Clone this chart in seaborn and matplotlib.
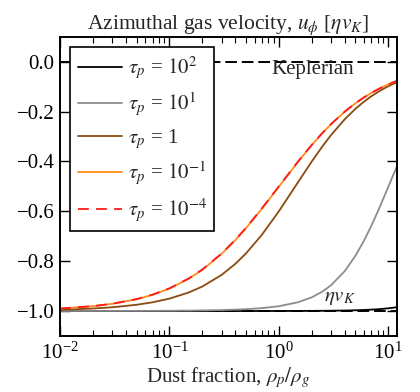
import matplotlib
matplotlib.use("Agg")
import matplotlib.pyplot as plt
import seaborn as sns
import pandas as pd

# dust-to-gas ratio samples
eps = [0.01, 0.02, 0.03, 0.05, 0.07, 0.1, 0.15, 0.2, 0.3, 0.4, 0.5, 0.7, 1.0,
       1.5, 2.0, 2.5, 3.0, 4.0, 5.0, 6.0, 7.0, 8.0, 9.0, 10.0, 11.0, 12.0]

u_tau1e2 = [-1.0, -1.0, -1.0, -1.0, -1.0, -1.0, -1.0, -1.0, -1.0, -1.0, -0.9999, -0.9999, -0.9998,
            -0.9996, -0.9994, -0.9991, -0.9988, -0.998, -0.997, -0.9958, -0.9944, -0.9929, -0.9911, -0.9891, -0.9870, -0.9847]
u_tau1e1 = [-0.9999, -0.9998, -0.9997, -0.9995, -0.9993, -0.9989, -0.9983, -0.9976, -0.9962, -0.9945, -0.9927, -0.9884, -0.9808,
            -0.9647, -0.9450, -0.9221, -0.8966, -0.840, -0.7794, -0.7181, -0.6585, -0.6022, -0.550, -0.5023, -0.4590, -0.4201]
u_tau1e0 = [-0.9950, -0.9900, -0.9850, -0.9750, -0.9651, -0.9502, -0.9257, -0.9016, -0.8550, -0.8108, -0.7692, -0.6941, -0.600,
            -0.4828, -0.400, -0.3396, -0.2941, -0.2308, -0.1892, -0.160, -0.1385, -0.1220, -0.1089, -0.0984, -0.0897, -0.0824]
u_tau1em1 = [-0.9902, -0.9806, -0.9711, -0.9528, -0.9351, -0.9098, -0.8705, -0.8345, -0.7706, -0.7157, -0.6681, -0.5897, -0.5012,
             -0.4010, -0.3341, -0.2863, -0.2505, -0.2003, -0.1669, -0.1430, -0.1251, -0.1112, -0.1001, -0.0910, -0.0834, -0.0770]
u_tau1em4 = [-0.9901, -0.9804, -0.9709, -0.9524, -0.9346, -0.9091, -0.8696, -0.8333, -0.7692, -0.7143, -0.6667, -0.5882, -0.500,
             -0.400, -0.3333, -0.2857, -0.250, -0.200, -0.1667, -0.1429, -0.125, -0.1111, -0.100, -0.0909, -0.0833, -0.0769]

labels = [r"$\tau_p$ = $10^2$", r"$\tau_p$ = $10^1$", r"$\tau_p$ = 1",
          r"$\tau_p$ = $10^{-1}$", r"$\tau_p$ = $10^{-4}$"]
colors = ["black", "#8c8c8c", "#8b4a0f", "#ff8c1a", "#ff1a1a"]
series = [u_tau1e2, u_tau1e1, u_tau1e0, u_tau1em1, u_tau1em4]

ref_x = [0.01, 12.0]
ref_kep = [0.0, 0.0]
ref_eta = [-1.0, -1.0]

sns.set_theme(style="ticks")
plt.rcParams.update({
    "font.family": ["Liberation Serif", "DejaVu Serif"],
    "mathtext.fontset": "stix",
    "font.size": 15,
    "axes.linewidth": 1.4,
    "xtick.direction": "in", "ytick.direction": "in",
    "xtick.top": True, "ytick.right": True,
    "xtick.major.size": 7, "ytick.major.size": 7,
    "xtick.minor.size": 4, "ytick.minor.size": 4,
    "xtick.major.width": 1.0, "ytick.major.width": 1.0,
    "xtick.minor.width": 0.8,
    "xtick.major.pad": 5, "ytick.major.pad": 4,
    "xtick.labelsize": 15, "ytick.labelsize": 15,
    "xtick.color": "black", "ytick.color": "black",
    "axes.edgecolor": "black",
})

fig = plt.figure(figsize=(4.2, 3.92), dpi=100)
ax = fig.add_axes([0.143, 0.143, 0.802, 0.763])

sns.lineplot(x=ref_x, y=ref_kep, ax=ax, color="black", lw=1.4, linestyle=(0, (6, 2.5)))
sns.lineplot(x=ref_x, y=ref_eta, ax=ax, color="black", lw=1.4, linestyle=(0, (6, 2.5)))

for s, lab, c in zip(series, labels, colors):
    df = pd.DataFrame({"eps": eps, "u": s})
    ls = (0, (6, 4)) if lab.endswith("{-4}$") else "-"
    sns.lineplot(data=df, x="eps", y="u", ax=ax, color=c, lw=1.3, linestyle=ls, label=lab)

ax.set_xscale("log")
ax.set_xlim(0.01, 12)
ax.set_ylim(-1.1, 0.1)
ax.set_yticks([0.0, -0.2, -0.4, -0.6, -0.8, -1.0])
ax.set_yticklabels(["0.0", "\u22120.2", "\u22120.4", "\u22120.6", "\u22120.8", "\u22121.0"])
ax.tick_params(axis="both", which="both", top=True, right=True, direction="in")
ax.set_title(r"Azimuthal gas velocity, $u_\phi$ [$\eta v_K$]", fontsize=15.5, pad=5)
ax.set_xlabel(r"Dust fraction, $\rho_p/\rho_g$", fontsize=15, labelpad=1)
ax.set_ylabel("")

ax.text(2.04, -0.03, "Keplerian", ha="center", va="center", fontsize=15)
ax.text(3.6, -0.945, r"$\eta v_K$", ha="center", va="center", fontsize=15)

leg = ax.legend(loc="upper left", fontsize=15, frameon=True, fancybox=False,
                edgecolor="black", framealpha=1, handlelength=2.1,
                labelspacing=0.42, borderpad=0.35, handletextpad=0.3)
leg.get_frame().set_linewidth(1.2)

fig.savefig("out.png", dpi=100)
